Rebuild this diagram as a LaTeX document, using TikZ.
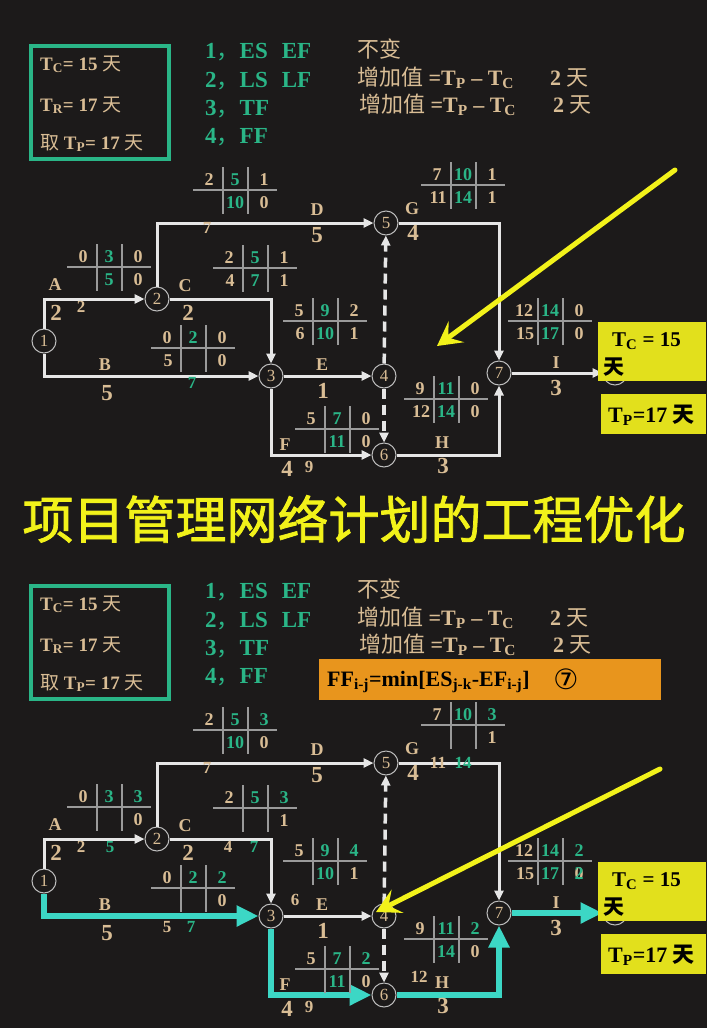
\documentclass[tikz,border=0pt]{standalone}
\usepackage{fontspec}
\setmainfont{Liberation Serif}
\newfontfamily\cjk{Noto Sans CJK SC}
\newfontfamily\cjkB{Noto Sans CJK SC}[FakeBold=1.5]
\newfontfamily\dvs{DejaVu Sans}
\usetikzlibrary{arrows.meta}
\definecolor{bg}{HTML}{1C1A1A}
\definecolor{tanc}{HTML}{D9BD95}
\definecolor{tealc}{HTML}{2AB587}
\definecolor{wl}{HTML}{E6E6E6}
\definecolor{gl}{HTML}{9A9A9A}
\definecolor{yl}{HTML}{F2F21A}
\definecolor{ybox}{HTML}{E2E01C}
\definecolor{obox}{HTML}{E8951D}
\definecolor{cy}{HTML}{3CD7C5}
\definecolor{ring}{HTML}{BDBDBD}
\newcommand\fsz[1]{\fontsize{#1}{#1}\selectfont}
\newcommand\gc{\color{tealc}}
\newcommand\zh[1]{{\cjk\mdseries #1}}
\tikzset{
 num/.style={font=\fsz{18}\bfseries, text=tanc, inner sep=0pt},
 lab/.style={font=\fsz{18}\bfseries, text=tanc, inner sep=0pt},
 dur/.style={font=\fsz{23}\bfseries, text=tanc, inner sep=0pt},
 sm/.style={font=\fsz{17}\bfseries, text=tanc, inner sep=0pt},
 circ/.style={circle, draw=ring, line width=1pt, fill=bg, minimum size=24pt, inner sep=0pt, font=\fsz{17}, text=tanc},
 edge/.style={draw=wl, line width=3pt, -{Triangle[length=10pt,width=9pt]}},
 dedge/.style={edge, line width=3.5pt, dash pattern=on 10pt off 6pt},
 crit/.style={draw=cy, line width=6pt, -{Triangle[length=22pt,width=20pt]}},
 grid/.style={draw=gl, line width=1.5pt},
 yarr/.style={draw=yl, line width=5pt, line cap=round, -{Stealth[length=24pt,width=26pt,inset=10pt]}},
 hd/.style={font=\fsz{19}\bfseries, text=tanc, inner sep=0pt, anchor=base west},
 lst/.style={font=\fsz{23}\bfseries, text=tealc, inner sep=0pt, anchor=base west},
 rt/.style={font=\fsz{22}\bfseries, text=tanc, inner sep=0pt, anchor=base west},
 bt/.style={font=\fsz{21}\bfseries, text=black, inner sep=0pt, anchor=base west},
}
% table: name x0 y  tl tm tr bl bm br
\newcommand\tbl[9]{%
 \draw[grid] (#2,#3) -- (#2+84,#3) (#2+30,#3-23) -- (#2+30,#3+24) (#2+55,#3-23) -- (#2+55,#3+24);
 \node[num] (#1a) at (#2+16,#3-10) {#4};
 \node[num] (#1b) at (#2+42,#3-10) {#5};
 \node[num] (#1c) at (#2+71,#3-10) {#6};
 \node[num] (#1d) at (#2+17,#3+13) {#7};
 \node[num] (#1e) at (#2+42,#3+13) {#8};
 \node[num] (#1f) at (#2+71,#3+13) {#9};
}
\newcommand\circles[1]{%
 \node[circ] (#1n1) at (44,341) {1};
 \node[circ] (#1n2) at (157,299) {2};
 \node[circ] (#1n3) at (271,376) {3};
 \node[circ] (#1n4) at (384,376) {4};
 \node[circ] (#1n5) at (386,223) {5};
 \node[circ] (#1n6) at (384,455) {6};
 \node[circ] (#1n7) at (499,373) {7};
 \node[circ] (#1n8) at (615,373) {};
}
\newcommand\commonedges[1]{%
 \draw[edge] (#1n1) |- (#1n2);
 \draw[edge] (#1n2) -| (#1n3);
 \draw[edge] (#1n2) |- (#1n5);
 \draw[edge] (#1n3) -- (#1n4);
 \draw[edge] (#1n5) -| (#1n7);
 \draw[dedge] (#1n4) -- (#1n5);
 \draw[dedge] (#1n4) -- (#1n6);
}
\newcommand\labels[1]{%
 \node[lab] (#1lA) at (55,285) {A};
 \node[dur] (#1dA) at (56,313) {2};
 \node[sm] (#1sA) at (81,307) {2};
 \node[lab] (#1lB) at (105,365) {B};
 \node[dur] (#1dB) at (107,393) {5};
 \node[lab] (#1lC) at (185,286) {C};
 \node[dur] (#1dC) at (188,313) {2};
 \node[lab] (#1lD) at (317,210) {D};
 \node[dur] (#1dD) at (317,235) {5};
 \node[sm] (#1sD) at (207,228) {7};
 \node[lab] (#1lE) at (322,365) {E};
 \node[dur] (#1dE) at (323,391) {1};
 \node[lab] (#1lF) at (285,445) {F};
 \node[dur] (#1dF) at (287,469) {4};
 \node[sm] (#1sF) at (309,467) {9};
 \node[lab] (#1lG) at (412,209) {G};
 \node[dur] (#1dG) at (413,233) {4};
 \node[lab] (#1lH) at (442,443) {H};
 \node[dur] (#1dH) at (443,466) {3};
 \node[lab] (#1lI) at (556,363) {I};
 \node[dur] (#1dI) at (556,388) {3};
}
\newcommand\heads[1]{%
 \draw[draw=tealc, line width=4pt] (31,46) rectangle (169,159);
 \node[hd] (#1h1) at (40,70) {T\textsubscript{C}= 15 \zh{天}};
 \node[hd] (#1h2) at (40,111) {T\textsubscript{R}= 17 \zh{天}};
 \node[hd] (#1h3) at (40,149) {\zh{取} T\textsubscript{P}= 17 \zh{天}};
 \node[lst] (#1l1) at (205,58) {1\zh{，}ES\hspace{14pt}EF};
 \node[lst] (#1l2) at (205,87) {2\zh{，}LS\hspace{14pt}LF};
 \node[lst] (#1l3) at (205,115) {3\zh{，}TF};
 \node[lst] (#1l4) at (205,143) {4\zh{，}FF};
 \node[rt] (#1r1) at (357,57) {\zh{不变}};
 \node[rt] (#1r2) at (357,85) {\zh{增加值} =T\textsubscript{P} – T\textsubscript{C}};
 \node[rt] (#1r2b) at (550,85) {2 \zh{天}};
 \node[rt] (#1r3) at (359,112) {\zh{增加值} =T\textsubscript{P} – T\textsubscript{C}};
 \node[rt] (#1r3b) at (553,112) {2 \zh{天}};
}
\newcommand\yboxes[1]{%
 \fill[ybox] (598,322) rectangle (706,381);
 \node[bt] (#1y1) at (612,346) {T\textsubscript{C} = 15};
 \node[bt] (#1y2) at (603,374) {{\cjk 天}};
 \fill[ybox] (601,394) rectangle (706,434);
 \node[bt, font=\fsz{22}\bfseries] (#1y3) at (608,422) {T\textsubscript{P}=17 {\cjk 天}};
}
\begin{document}
\begin{tikzpicture}[x=1pt,y=-1pt]
\fill[bg] (0,0) rectangle (707,1028);
\useasboundingbox (0,0) rectangle (707,1028);
% ================= top half =================
\heads{t}
\circles{t}
\commonedges{t}
\draw[edge] (tn1) |- (tn3);
\draw[edge] (tn3) |- (tn6);
\draw[edge] (tn6) -| (tn7);
\draw[edge] (tn7) -- (tn8);
\labels{t}
\node[sm, text=tealc] (tx1) at (192,383) {7};
\tbl{tA}{67}{267}{0}{\gc 3}{0}{}{\gc 5}{0}
\tbl{tD}{193}{190}{2}{\gc 5}{1}{}{\gc 10}{0}
\tbl{tC}{213}{268}{2}{\gc 5}{1}{4}{\gc 7}{1}
\tbl{tE}{283}{321}{5}{\gc 9}{2}{6}{\gc 10}{1}
\tbl{tB}{151}{348}{0}{\gc 2}{0}{5}{}{0}
\tbl{tF}{295}{429}{5}{\gc 7}{0}{}{\gc 11}{0}
\tbl{tG}{421}{185}{7}{\gc 10}{1}{11}{\gc 14}{1}
\tbl{tI}{508}{321}{12}{\gc 14}{0}{15}{\gc 17}{0}
\tbl{tH}{404}{399}{9}{\gc 11}{0}{12}{\gc 14}{0}
\yboxes{t}
\coordinate (ya1) at (675,170);
\coordinate (ya2) at (437,346);
\draw[yarr] (ya1) -- (ya2);
% title
\node[font=\fsz{51}\cjkB, text=yl, inner sep=0pt] (title) at (354,519) {项目管理网络计划的工程优化};
% ================= bottom half =================
\begin{scope}[yshift=-540pt]
\heads{b}
\circles{b}
\commonedges{b}
\draw[crit] (bn1) |- (bn3);
\draw[crit] (bn3) |- (bn6);
\draw[crit] (bn6) -| (bn7);
\draw[crit] (bn7) -- (bn8);
\labels{b}
\node[sm, text=tealc] (bx1) at (110,307) {5};
\node[sm] (bx2) at (228,307) {4};
\node[sm, text=tealc] (bx3) at (254,307) {7};
\node[sm] (bx4) at (167,387) {5};
\node[sm, text=tealc] (bx5) at (191,387) {7};
\node[sm] (bx6) at (295,360) {6};
\node[sm] (bx7) at (438,223) {11};
\node[sm, text=tealc] (bx8) at (463,223) {14};
\node[sm] (bx9) at (419,437) {12};
\tbl{bA}{67}{267}{0}{\gc 3}{\gc 3}{}{}{0}
\tbl{bD}{193}{190}{2}{\gc 5}{\gc 3}{}{\gc 10}{0}
\tbl{bC}{213}{268}{2}{\gc 5}{\gc 3}{}{}{1}
\tbl{bE}{283}{321}{5}{\gc 9}{\gc 4}{}{\gc 10}{1}
\tbl{bB}{151}{348}{0}{\gc 2}{\gc 2}{}{}{0}
\tbl{bF}{295}{429}{5}{\gc 7}{\gc 2}{}{\gc 11}{0}
\tbl{bG}{421}{185}{7}{\gc 10}{\gc 3}{}{}{1}
\tbl{bI}{508}{321}{12}{\gc 14}{\gc 2}{15}{\gc 17}{\rlap{0}\gc 2}
\tbl{bH}{404}{399}{9}{\gc 11}{\gc 2}{}{\gc 14}{0}
\yboxes{b}
\end{scope}
% orange formula box
\fill[obox] (319,659) rectangle (661,700);
\node[bt, font=\fsz{22}\bfseries] (ff) at (327,686) {FF\textsubscript{i-j}=min[ES\textsubscript{j-k}-EF\textsubscript{i-j}]};
\node[font=\fsz{28}\dvs, text=black, inner sep=0pt] (f7) at (566,679) {⑦};
\coordinate (yb1) at (660,769);
\coordinate (yb2) at (376,912);
\draw[yarr] (yb1) -- (yb2);
\end{tikzpicture}
\end{document}
